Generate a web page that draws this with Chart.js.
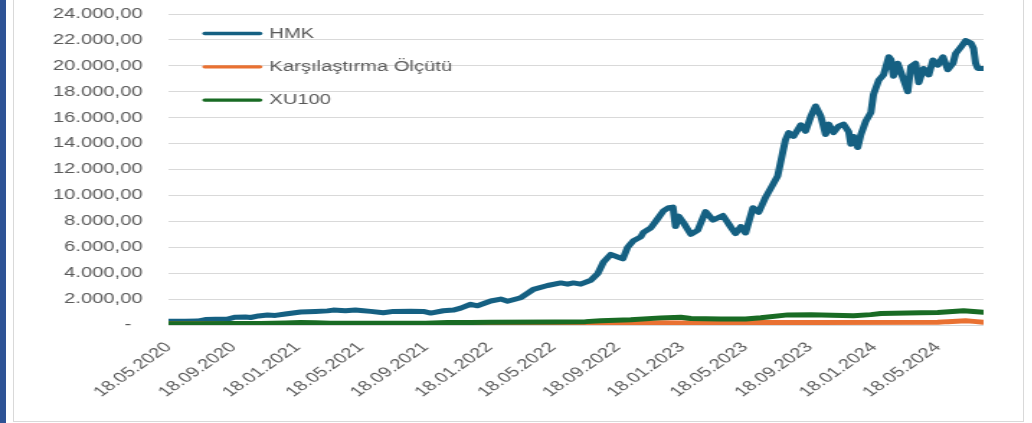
<!DOCTYPE html>
<html><head><meta charset="utf-8">
<script src="https://cdn.jsdelivr.net/npm/chart.js@4/dist/chart.umd.min.js"></script>
<style>
html,body{margin:0;padding:0;background:#fff;width:1032px;height:423px;overflow:hidden;}
#bar{position:absolute;left:0;top:0;width:6px;height:423px;background:#2E5395;}
#frame{position:absolute;left:13px;top:-10px;width:1009px;height:430px;border:1px solid #d9d9d9;}
#wrap{position:absolute;left:0;top:0;width:717px;height:423px;transform:scaleX(1.44);transform-origin:0 0;}
</style></head><body>
<div id="bar"></div><div id="frame"></div>
<div id="wrap"><canvas id="c"></canvas></div>
<script>
const seriesNames = ['HMK', 'Karşılaştırma Ölçütü', 'XU100'];
const seriesColors = ['#156082', '#E97132', '#196B24'];

const yTickLabels = ['-  ', '2.000,00', '4.000,00', '6.000,00', '8.000,00', '10.000,00', '12.000,00',
  '14.000,00', '16.000,00', '18.000,00', '20.000,00', '22.000,00', '24.000,00'];
const xTickLabels = ['18.05.2020', '18.09.2020', '18.01.2021', '18.05.2021', '18.09.2021', '18.01.2022',
  '18.05.2022', '18.09.2022', '18.01.2023', '18.05.2023', '18.09.2023', '18.01.2024', '18.05.2024'];

const hmkDates = ['2020-05-18','2020-06-19','2020-07-12','2020-07-27','2020-08-15','2020-09-07','2020-09-22',
  '2020-10-11','2020-10-21','2020-11-05','2020-11-22','2020-12-07','2020-12-26','2021-01-24','2021-02-21',
  '2021-03-16','2021-03-27','2021-04-19','2021-05-08','2021-05-18','2021-06-06','2021-06-30','2021-07-19',
  '2021-08-21','2021-09-14','2021-09-28','2021-10-22','2021-11-10','2021-11-24','2021-12-13','2021-12-26',
  '2022-01-20','2022-02-08','2022-02-21','2022-03-18','2022-04-11','2022-05-08','2022-06-02','2022-06-15',
  '2022-06-26','2022-07-10','2022-07-29','2022-08-11','2022-08-22','2022-09-05','2022-09-18','2022-09-28',
  '2022-10-07','2022-10-18','2022-11-01','2022-11-06','2022-11-20','2022-12-03','2022-12-14','2022-12-24',
  '2023-01-01','2023-01-06','2023-01-12','2023-01-21','2023-02-04','2023-02-17','2023-03-04','2023-03-18',
  '2023-04-06','2023-04-21','2023-04-30','2023-05-10','2023-05-19','2023-06-02','2023-06-13','2023-06-26',
  '2023-07-10','2023-07-19','2023-07-29','2023-08-03','2023-08-09','2023-08-18','2023-09-01','2023-09-10',
  '2023-09-20','2023-09-29','2023-10-09','2023-10-18','2023-10-24','2023-11-02','2023-11-12','2023-11-21',
  '2023-12-01','2023-12-05','2023-12-10','2023-12-18','2023-12-24','2024-01-02','2024-01-12','2024-01-17',
  '2024-01-27','2024-02-05','2024-02-15','2024-02-19','2024-02-24','2024-03-03','2024-03-13','2024-03-22',
  '2024-03-28','2024-04-06','2024-04-12','2024-04-21','2024-05-01','2024-05-09','2024-05-18','2024-05-28',
  '2024-06-06','2024-06-16','2024-06-21','2024-07-01','2024-07-10','2024-07-20','2024-07-25','2024-07-29',
  '2024-08-02','2024-08-13'];
const hmkValues = [280,280,300,420,440,460,600,
  620,580,700,770,740,850,1000,1050,
  1090,1150,1100,1150,1120,1050,950,1050,
  1070,1050,920,1100,1150,1300,1600,1480,
  1850,2000,1830,2100,2750,3050,3250,3150,
  3250,3150,3450,3950,4850,5450,5250,5100,
  6000,6500,6800,7150,7500,8200,8800,9050,
  9100,7600,8400,7900,7000,7300,8750,8100,
  8450,7550,7050,7600,7100,9050,8700,9850,
  10850,11500,13400,14300,14850,14550,15450,14950,
  16100,16900,16100,14700,15500,14850,15350,15500,
  14900,13950,14550,13700,14700,15700,16400,17800,
  18900,19300,20700,20500,19200,20200,19050,18000,
  19950,20200,18700,19800,19300,20450,20050,20700,
  19700,20200,20950,21450,21950,21750,21350,20200,
  19800,19800];

const benchDates = ['2020-05-18','2021-01-24','2021-05-18','2022-01-20','2022-08-17','2022-10-13','2022-12-09',
  '2023-01-16','2023-03-04','2023-09-20','2024-05-18','2024-06-06','2024-07-10','2024-07-25','2024-08-13'];
const benchValues = [100,105,105,110,120,140,170,
  160,190,200,210,260,320,280,210];

const xuDates = ['2020-05-18','2020-07-18','2020-09-17','2020-11-09','2020-12-26','2021-01-24','2021-02-21',
  '2021-03-21','2021-05-18','2021-09-18','2021-10-30','2021-12-13','2022-01-20','2022-05-19','2022-07-19',
  '2022-08-17','2022-10-13','2022-12-09','2023-01-16','2023-02-04','2023-04-02','2023-05-19','2023-06-17',
  '2023-08-07','2023-09-20','2023-12-10','2024-01-12','2024-01-31','2024-04-16','2024-05-18','2024-07-06',
  '2024-08-13'];
const xuValues = [100,105,110,120,160,200,180,
  140,135,140,190,200,210,240,260,
  330,400,550,600,500,470,460,560,
  780,790,720,800,880,950,970,1100,
  980];

const DAY = 86400000;
const t0 = Date.UTC(2020, 4, 18);
const isoToDay = s => { const [y, m, d] = s.split('-').map(Number); return Math.round((Date.UTC(y, m - 1, d) - t0) / DAY); };
const trToDay = s => { const [d, m, y] = s.split('.').map(Number); return Math.round((Date.UTC(y, m - 1, d) - t0) / DAY); };
const toPoints = (dates, vals) => dates.map((s, i) => ({ x: isoToDay(s), y: vals[i] }));
const tickDays = xTickLabels.map(trToDay);
const lastDay = isoToDay(hmkDates[hmkDates.length - 1]);

const FONT = { family: '"Liberation Sans", Arial, sans-serif', size: 14 };

const legendPlugin = {
  id: 'insideLegend',
  afterDatasetsDraw(chart) {
    const { ctx, chartArea } = chart;
    ctx.save();
    ctx.font = '14px "Liberation Sans", Arial, sans-serif';
    ctx.textBaseline = 'middle';
    ctx.textAlign = 'left';
    seriesNames.forEach((name, i) => {
      const y = chartArea.top + 19.5 + i * 33.3;
      const x0 = chartArea.left + 23.6;
      ctx.strokeStyle = seriesColors[i];
      ctx.lineWidth = 3.3;
      ctx.lineCap = 'round';
      ctx.beginPath(); ctx.moveTo(x0 + 1.5, y); ctx.lineTo(x0 + 40, y); ctx.stroke();
      ctx.fillStyle = '#595959';
      ctx.fillText(name, x0 + 46.5, y + 0.5);
    });
    ctx.restore();
  }
};

const mk = (i, dates, vals, order) => ({
  label: seriesNames[i], data: toPoints(dates, vals), borderColor: seriesColors[i], backgroundColor: seriesColors[i],
  borderWidth: 5, pointRadius: 0, tension: 0, borderCapStyle: 'round', borderJoinStyle: 'round', order
});

new Chart(document.getElementById('c'), {
  type: 'line',
  data: { datasets: [mk(0, hmkDates, hmkValues, 3), mk(1, benchDates, benchValues, 2), mk(2, xuDates, xuValues, 1)] },
  options: {
    responsive: true, maintainAspectRatio: false, animation: false, parsing: false,
    layout: { padding: { left: 0, right: 34, top: 14, bottom: 0 } },
    plugins: { legend: { display: false }, tooltip: { enabled: false } },
    scales: {
      x: {
        type: 'linear', min: 0, max: lastDay,
        afterBuildTicks: axis => { axis.ticks = tickDays.map(v => ({ value: v })); },
        afterFit: s => { s.height = 98; },
        grid: { display: false, drawTicks: false },
        border: { display: false },
        ticks: { autoSkip: false, minRotation: 45, maxRotation: 45, padding: 14, color: '#595959', font: FONT,
          callback: v => { const k = tickDays.indexOf(v); return k >= 0 ? xTickLabels[k] : ''; } }
      },
      y: {
        min: 0, max: 24000,
        afterFit: s => { s.width = 117; s.paddingTop = 8; s.paddingBottom = 8; },
        grid: { color: '#d9d9d9', lineWidth: 1, drawTicks: false },
        border: { display: false },
        ticks: { stepSize: 2000, padding: 18, color: '#595959', font: FONT,
          callback: v => yTickLabels[Math.round(v / 2000)] }
      }
    }
  },
  plugins: [legendPlugin]
});
</script>
</body></html>
